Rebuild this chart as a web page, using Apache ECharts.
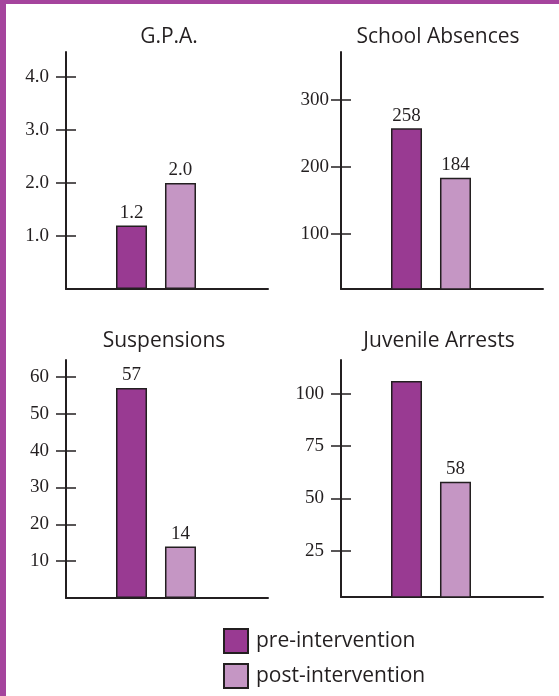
<!DOCTYPE html>
<html lang="en">
<head>
    <meta charset="UTF-8">
    <title>Intervention outcomes</title>
    <style>
        body{ margin:0; background:#fff; }
        .wrap{ position:relative; width:559px; height:696px; }
        #chart{ width:559px; height:696px; }
        .edge-top{ position:absolute; left:0; top:0; width:559px; height:4px; background:#a5449d; }
        .edge-left{ position:absolute; left:0; top:0; width:6px; height:696px; background:#a5449d; }
    </style>
</head>
<body>
    <div class="wrap">
        <div id="chart"></div>
        <div class="edge-top"></div>
        <div class="edge-left"></div>
    </div>

    <script src="https://cdn.jsdelivr.net/npm/echarts@6/dist/echarts.min.js"></script>
    <script>
        // data
        let titles = ['G.P.A.', 'School Absences', 'Suspensions', 'Juvenile Arrests']
        let seriesNames = ['pre-intervention', 'post-intervention']
        let preValues = [1.2, 258, 57, 106]
        let postValues = [2.0, 184, 14, 58]
        let preLabelShown = [true, true, true, false]   // arrests pre bar has no number
        let tickValues = [
            [1, 2, 3, 4],
            [100, 200, 300],
            [10, 20, 30, 40, 50, 60],
            [25, 50, 75, 100]
        ]
        let decimals = [1, 0, 0, 0]

        // where each small chart sits (px) and its y range
        let panels = [
            { left: 66,  top: 52,  bottom: 407, min: 0,  max: 4.47,  margin: 17, titleX: 164, titleTop: 22 },
            { left: 341, top: 52,  bottom: 407, min: 18, max: 371.6, margin: 12, titleX: 433, titleTop: 22 },
            { left: 66,  top: 360, bottom: 98,  min: 0,  max: 64.6,  margin: 17, titleX: 159, titleTop: 326 },
            { left: 341, top: 360, bottom: 99,  min: 3,  max: 116,   margin: 17, titleX: 434, titleTop: 326 }
        ]

        let ink = '#231f20'
        let colors = ['#993a92', '#c596c4']
        let serif = 'Liberation Serif'
        let sans = 'Open Sans'

        let chart = echarts.init(document.getElementById('chart'))

        let grid = [], xAxis = [], yAxis = [], series = [], title = []
        panels.forEach((p, i) => {
            let fmt = v => Number(v).toFixed(decimals[i])
            // frame grid (full width axis line) and bar grid (narrower so bars sit left of centre)
            grid.push({ left: p.left, top: p.top, bottom: p.bottom, width: 202 })
            grid.push({ left: p.left, top: p.top, bottom: p.bottom, width: 180 })

            xAxis.push({
                type: 'category', gridIndex: 2 * i, data: [''],
                axisLine: { lineStyle: { color: ink, width: 2 } },
                axisTick: { show: false }, axisLabel: { show: false }
            })
            xAxis.push({
                type: 'category', gridIndex: 2 * i + 1, data: [titles[i]],
                axisLine: { show: false }, axisTick: { show: false }, axisLabel: { show: false }
            })

            yAxis.push({
                type: 'value', gridIndex: 2 * i, min: p.min, max: p.max,
                splitLine: { show: false },
                axisLine: { show: true, lineStyle: { color: ink, width: 2 } },
                axisTick: { show: true, length: 10, customValues: tickValues[i], lineStyle: { color: ink, width: 1.5 } },
                axisLabel: {
                    customValues: tickValues[i], formatter: fmt, margin: p.margin,
                    color: ink, fontFamily: serif, fontSize: 19
                }
            })
            yAxis.push({
                type: 'value', gridIndex: 2 * i + 1, min: p.min, max: p.max,
                splitLine: { show: false },
                axisLine: { show: false },
                axisTick: { show: true, inside: true, length: 10, customValues: tickValues[i], lineStyle: { color: ink, width: 1.5 } },
                axisLabel: { show: false }
            })

            let label = {
                show: true, position: 'top', distance: 3,
                color: ink, fontFamily: serif, fontSize: 19,
                formatter: d => fmt(d.value)
            }
            let pre = preLabelShown[i] ? preValues[i] : { value: preValues[i], label: { show: false } }
            series.push({
                name: seriesNames[0], type: 'bar', xAxisIndex: 2 * i + 1, yAxisIndex: 2 * i + 1,
                data: [pre], barWidth: 31, barGap: '58%', label: label,
                itemStyle: { color: colors[0], borderColor: ink, borderWidth: 1.5 }
            })
            series.push({
                name: seriesNames[1], type: 'bar', xAxisIndex: 2 * i + 1, yAxisIndex: 2 * i + 1,
                data: [postValues[i]], barWidth: 31, barGap: '58%', label: label,
                itemStyle: { color: colors[1], borderColor: ink, borderWidth: 1.5 }
            })

            title.push({
                text: titles[i], left: p.titleX, top: p.titleTop, textAlign: 'center',
                textStyle: { color: ink, fontFamily: sans, fontWeight: 'normal', fontSize: 21 }
            })
        })

        // one legend block per line, stacked
        let legend = seriesNames.map((name, k) => ({
            data: [name], left: 223, top: 628 + k * 35, padding: 0,
            icon: 'rect', itemWidth: 24, itemHeight: 24,
            selectedMode: false,
            textStyle: { color: ink, fontFamily: sans, fontSize: 21, padding: [0, 0, 0, 3] }
        }))

        chart.setOption({
            animation: false,
            title: title,
            grid: grid,
            xAxis: xAxis,
            yAxis: yAxis,
            series: series,
            legend: legend
        })
    </script>
</body>
</html>
